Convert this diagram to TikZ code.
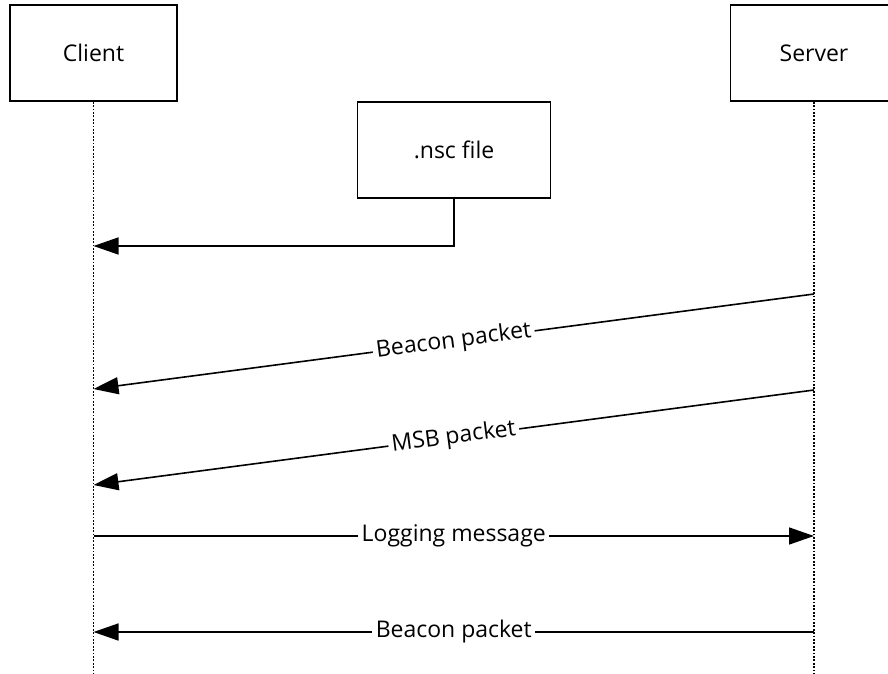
\documentclass[tikz,border=0pt]{standalone}
\usepackage{fontspec}
\setmainfont{Open Sans}
\usetikzlibrary{arrows.meta}
\begin{document}
\begin{tikzpicture}[x=1pt,y=-1pt,
  box/.style={draw,line width=1.6pt,inner sep=0pt,font=\fontsize{23}{27}\selectfont},
  life/.style={line width=1.6pt,dash pattern=on 1.8pt off 1.6pt},
  msg/.style={line width=1.6pt,-{Triangle[length=25pt,width=17pt]}},
  lbl/.style={fill=white,inner sep=3.5pt,font=\fontsize{23}{27}\selectfont}]
\useasboundingbox (0,0) rectangle (888,674);
\clip (0,0) rectangle (888,674);
\node[box,minimum width=167pt,minimum height=96pt] (client) at (93.5,53) {Client};
\node[box,minimum width=167pt,minimum height=96pt] (server) at (814,53) {Server};
\node[box,minimum width=193pt,minimum height=96pt] (nsc) at (454,150) {.nsc file};
\coordinate (cb) at (93.5,674);
\coordinate (sb) at (814,674);
\draw[life] (client.south) -- (cb);
\draw[life] (server.south) -- (sb);
\coordinate (c1) at (93.5,246);
\coordinate (s2) at (814,294);
\coordinate (c2) at (93.5,389);
\coordinate (s3) at (814,390);
\coordinate (c3) at (93.5,485);
\coordinate (c4) at (93.5,536);
\coordinate (s4) at (814,536);
\coordinate (s5) at (814,632);
\coordinate (c5) at (93.5,632);
\draw[msg] (nsc.south) |- (c1);
\draw[msg] (s2) -- node[lbl,sloped,midway]{Beacon packet} (c2);
\draw[msg] (s3) -- node[lbl,sloped,midway]{MSB packet} (c3);
\draw[msg] (c4) -- node[lbl,midway]{Logging message} (s4);
\draw[msg] (s5) -- node[lbl,midway]{Beacon packet} (c5);
\end{tikzpicture}
\end{document}
